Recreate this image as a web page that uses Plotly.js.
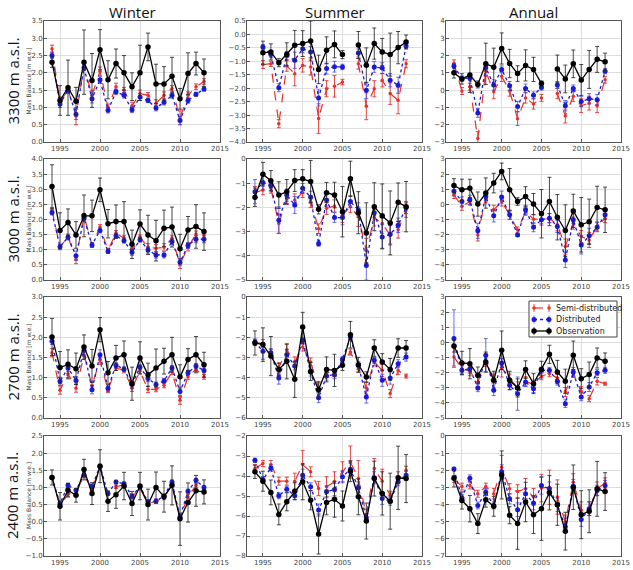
<!DOCTYPE html>
<html>
<head>
<meta charset="utf-8">
<script src="https://cdn.plot.ly/plotly-3.0.1.min.js"></script>
<style>html,body{margin:0;padding:0;background:#fff;}#chart{width:633px;height:570px;}</style>
</head>
<body>
<div id="chart"></div>
<script>
// Mass balance 1994-2013: observation vs distributed and semi-distributed models
const years = [1994,1995,1996,1997,1998,1999,2000,2001,2002,2003,2004,2005,2006,2007,2008,2009,2010,2011,2012,2013];

const seasons = ['Winter', 'Summer', 'Annual'];
const elevations = ['3300 m a.s.l.', '3000 m a.s.l.', '2700 m a.s.l.', '2400 m a.s.l.'];
const seriesNames = ['Semi-distributed', 'Distributed', 'Observation'];

// ---- 3300 m ----
const w3300Obs     = [2.31,1.20,1.57,1.18,2.31,1.78,2.67,1.80,2.27,2.00,1.60,2.00,2.75,1.68,1.68,1.90,1.25,1.98,2.27,2.00];
const w3300ObsErr  = [0.15,0.43,0.80,0.40,0.93,0.78,0.58,0.55,0.42,0.50,0.40,0.80,0.40,0.57,0.50,0.55,0.30,0.60,0.33,0.40];
const w3300Dist    = [2.50,1.10,1.50,0.80,2.15,1.25,1.80,0.92,1.45,1.35,0.93,1.30,1.20,0.98,1.15,1.35,0.62,1.20,1.38,1.53];
const w3300DistErr = [0.08,0.10,0.08,0.15,0.08,0.12,0.10,0.08,0.08,0.08,0.08,0.10,0.06,0.08,0.08,0.08,0.12,0.08,0.06,0.06];
const w3300Semi    = [2.70,1.15,1.52,0.75,2.20,1.35,2.05,1.00,1.60,1.50,1.05,1.40,1.35,1.12,1.35,1.55,0.70,1.35,1.60,1.75];
const w3300SemiErr = [0.10,0.15,0.10,0.25,0.10,0.15,0.12,0.10,0.10,0.08,0.10,0.10,0.08,0.10,0.10,0.08,0.20,0.10,0.08,0.08];

const s3300Obs     = [null,-0.68,-0.65,-1.05,-0.74,-0.40,-0.34,-0.24,-1.30,-0.59,-0.37,-0.75,null,-0.39,-1.15,-0.34,-0.65,-0.75,-0.49,-0.28];
const s3300ObsErr  = [null,0.43,0.30,0.15,0.43,0.55,0.48,0.74,0.53,0.50,0.50,0.15,null,0.50,0.65,0.58,0.50,0.80,0.60,0.26];
const s3300Dist    = [null,-0.47,-0.75,-1.98,-0.78,-0.96,-0.53,-0.65,-2.36,-1.27,-1.20,-1.21,null,-0.69,-2.08,-1.21,-1.25,-1.70,-1.89,-0.43];
const s3300DistErr = [null,0.10,0.10,0.15,0.15,0.30,0.15,0.20,0.30,0.20,0.20,0.10,null,0.15,0.30,0.20,0.20,0.25,0.30,0.10];
const s3300Semi    = [null,-1.12,-1.09,-3.32,-1.17,-1.46,-1.15,-1.21,-3.13,-2.02,-1.93,-1.77,null,-1.09,-2.67,-2.02,-1.70,-2.20,-2.45,-1.09];
const s3300SemiErr = [null,0.15,0.10,0.15,0.20,0.45,0.25,0.30,0.55,0.30,0.40,0.10,null,0.20,0.50,0.30,0.25,0.40,0.50,0.15];

const a3300Obs     = [1.00,0.65,0.87,0.33,1.52,1.33,2.41,1.54,0.96,1.43,1.20,0.38,null,1.23,0.65,1.52,0.58,1.20,1.78,1.64];
const a3300ObsErr  = [0.30,0.30,1.00,0.20,1.20,1.10,0.90,0.82,0.45,0.90,0.70,0.15,null,0.80,0.80,0.80,0.90,1.10,0.75,0.50];
const a3300Dist    = [1.39,0.67,0.70,-1.32,1.30,0.30,1.20,0.25,-0.95,0.10,-0.30,0.15,null,0.30,-0.90,0.10,-0.65,-0.50,-0.55,1.10];
const a3300DistErr = [0.15,0.15,0.15,0.25,0.20,0.30,0.20,0.25,0.30,0.25,0.20,0.15,null,0.20,0.30,0.20,0.30,0.30,0.30,0.15];
const a3300Semi    = [1.55,-0.05,0.20,-2.80,1.10,-0.10,0.80,-0.05,-1.65,-0.45,-0.80,-0.45,null,-0.20,-1.50,-0.35,-0.90,-0.75,-0.90,0.60];
const a3300SemiErr = [0.20,0.20,0.20,0.40,0.30,0.40,0.30,0.30,0.40,0.30,0.30,0.20,null,0.30,0.40,0.30,0.40,0.40,0.40,0.20];

// ---- 3000 m ----
const w3000Obs     = [3.09,1.64,1.90,1.49,2.12,2.12,2.98,1.86,1.93,1.93,1.18,1.85,1.49,1.30,1.71,1.75,1.03,1.65,1.77,1.60];
const w3000ObsErr  = [0.72,0.58,0.45,0.44,0.69,0.52,0.39,0.47,0.55,0.66,0.47,0.47,0.65,0.67,0.60,0.66,0.48,0.45,0.72,0.62];
const w3000Dist    = [2.23,1.10,1.41,0.80,2.04,1.16,1.64,0.94,1.46,1.30,0.92,1.33,0.99,0.83,0.83,1.27,0.59,1.14,1.35,1.35];
const w3000DistErr = [0.08,0.08,0.08,0.15,0.08,0.08,0.08,0.06,0.08,0.08,0.10,0.08,0.10,0.10,0.10,0.08,0.12,0.10,0.12,0.12];
const w3000Semi    = [2.32,1.08,1.44,0.69,2.12,1.16,1.75,0.99,1.55,1.38,0.97,1.41,1.08,1.05,1.08,1.38,0.53,1.08,1.52,1.52];
const w3000SemiErr = [0.08,0.08,0.08,0.15,0.08,0.08,0.08,0.06,0.08,0.08,0.10,0.08,0.12,0.12,0.12,0.08,0.15,0.12,0.10,0.10];

const s3000Obs     = [-1.58,-0.63,-0.90,-1.49,-1.35,-0.89,-0.82,-0.93,-2.08,-1.39,-1.49,-2.18,-0.82,-2.22,-3.06,-1.97,-2.36,-2.64,-1.79,-1.97];
const s3000ObsErr  = [0.38,0.49,0.42,0.55,0.50,0.45,0.38,0.87,0.19,0.42,0.53,1.04,0.73,0.87,1.25,0.99,1.33,1.32,0.80,1.04];
const s3000Dist    = [-1.35,-0.97,-1.11,-2.53,-1.49,-1.90,-1.21,-1.58,-3.50,-1.69,-2.42,-2.42,-1.76,-2.11,-4.40,-2.22,-3.22,-3.11,-2.74,-2.00];
const s3000DistErr = [0.50,0.30,0.20,0.55,0.25,0.35,0.20,0.25,0.10,0.25,0.20,0.30,0.25,0.30,0.60,0.30,0.50,0.40,0.30,0.25];
const s3000Semi    = [-1.39,-1.28,-1.21,-2.67,-1.63,-1.69,-1.39,-1.76,-2.88,-2.04,-1.94,-2.32,-1.97,-2.39,-3.78,-2.42,-2.67,-3.15,-2.92,-2.11];
const s3000SemiErr = [0.25,0.20,0.20,0.40,0.25,0.25,0.20,0.25,0.20,0.25,0.25,0.30,0.25,0.40,0.50,0.35,0.40,0.40,0.35,0.30];

const a3000Obs     = [1.25,0.97,1.06,0.02,0.75,1.41,2.18,0.97,0.19,0.52,0.02,-0.62,0.19,-0.85,-1.73,-0.43,-1.35,-1.15,-0.20,-0.36];
const a3000ObsErr  = [0.45,0.70,0.60,0.80,1.00,0.65,0.55,1.40,0.25,0.65,0.70,1.60,1.60,1.50,1.70,1.10,1.80,1.50,1.40,1.50];
const a3000Dist    = [0.86,0.19,0.30,-1.75,0.52,-0.76,0.48,-0.69,-2.02,-0.36,-1.51,-1.02,-0.91,-1.46,-3.67,-1.02,-2.68,-2.08,-1.51,-0.69];
const a3000DistErr = [0.30,0.30,0.30,0.50,0.30,0.40,0.40,0.30,0.10,0.30,0.30,0.35,0.30,0.40,0.50,0.40,0.60,0.50,0.30,0.30];
const a3000Semi    = [0.64,-0.14,0.19,-2.02,0.41,-0.36,0.19,-0.69,-1.69,-0.47,-0.98,-0.98,-0.91,-1.35,-2.79,-1.24,-2.13,-2.35,-1.46,-0.91];
const a3000SemiErr = [0.25,0.25,0.25,0.40,0.30,0.30,0.30,0.30,0.20,0.25,0.30,0.30,0.30,0.40,0.50,0.40,0.40,0.50,0.30,0.30];

// ---- 2700 m ----
const w2700Obs     = [2.01,1.25,1.33,1.22,1.76,1.29,2.19,1.12,1.49,1.57,0.85,1.49,1.07,1.24,1.41,1.57,1.02,1.45,1.57,1.32];
const w2700ObsErr  = [0.46,0.40,0.36,0.39,0.30,0.41,0.30,0.28,0.31,0.34,0.41,0.40,0.29,0.47,0.32,0.43,0.30,0.27,0.45,0.31];
const w2700Dist    = [1.90,0.91,1.24,0.93,1.68,0.70,1.57,0.74,1.31,1.21,0.83,1.26,0.98,0.83,0.92,1.24,0.66,1.12,1.29,1.18];
const w2700DistErr = [0.08,0.10,0.08,0.10,0.10,0.10,0.12,0.08,0.06,0.06,0.08,0.06,0.08,0.06,0.06,0.06,0.10,0.06,0.06,0.06];
const w2700Semi    = [1.62,0.69,1.10,0.74,1.55,0.81,1.43,0.69,1.24,1.18,0.74,1.16,0.71,0.71,0.81,1.14,0.44,1.02,1.21,1.02];
const w2700SemiErr = [0.10,0.10,0.10,0.10,0.10,0.10,0.10,0.06,0.06,0.06,0.08,0.06,0.08,0.06,0.06,0.06,0.10,0.06,0.06,0.06];

const s2700Obs     = [-2.28,-2.36,-2.93,-3.59,-3.19,-4.08,-1.49,-3.69,-4.60,-3.59,-3.64,-3.39,-1.87,-3.36,-3.97,-2.53,-3.22,-3.59,-2.53,-2.53];
const s2700ObsErr  = [0.60,0.83,0.97,0.31,0.87,0.90,0.73,0.45,0.40,0.62,0.80,0.25,0.66,0.37,0.26,0.41,0.41,0.54,0.46,0.37];
const s2700Dist    = [-2.23,-2.69,-2.76,-4.02,-2.86,-3.42,-2.15,-3.72,-4.99,-3.92,-3.85,-3.09,-1.98,-3.39,-4.96,-3.14,-4.13,-4.02,-3.31,-2.98];
const s2700DistErr = [0.15,0.40,0.20,0.30,0.25,0.20,0.15,0.20,0.25,0.20,0.20,0.15,0.15,0.20,0.30,0.15,0.30,0.30,0.20,0.20];
const s2700Semi    = [-2.26,-2.31,-2.81,-3.52,-2.61,-3.22,-2.48,-3.22,-4.51,-3.75,-3.75,-3.22,-2.73,-3.52,-4.51,-3.22,-3.64,-4.79,-3.64,-3.92];
const s2700SemiErr = [0.15,0.20,0.20,0.25,0.25,0.25,0.20,0.20,0.25,0.20,0.20,0.15,0.15,0.20,0.30,0.20,0.30,0.20,0.20,0.10];

const a2700Obs     = [-0.24,-1.36,-1.41,-2.18,-1.30,-2.51,-0.52,-2.51,-3.01,-1.80,-2.73,-1.80,-0.79,-1.96,-2.57,-0.85,-2.40,-2.13,-1.03,-1.25];
const a2700ObsErr  = [0.40,0.77,1.00,0.55,0.66,0.60,1.27,0.60,0.60,0.58,0.66,0.55,0.60,0.77,0.80,0.94,0.66,0.83,0.66,0.55];
const a2700Dist    = [0.25,-1.85,-1.74,-3.01,-0.85,-3.17,-1.36,-2.84,-3.39,-2.62,-3.06,-1.85,-1.85,-2.57,-4.05,-1.96,-3.61,-2.95,-2.00,-1.85];
const a2700DistErr = [1.90,0.30,0.30,0.25,1.10,0.35,0.30,0.30,1.10,0.30,0.25,0.20,0.20,0.25,0.25,0.30,0.25,0.30,0.20,0.20];
const a2700Semi    = [-0.96,-1.74,-1.91,-2.62,-1.19,-2.40,-1.69,-2.40,-3.01,-2.57,-2.79,-2.22,-2.07,-2.35,-3.28,-2.07,-3.23,-3.72,-2.57,-2.73];
const a2700SemiErr = [0.60,0.30,0.30,0.30,0.40,0.30,0.60,0.30,0.40,0.30,0.30,0.25,0.20,0.25,0.30,0.25,0.30,0.20,0.25,0.10];

// ---- 2400 m ----
const w2400Obs     = [1.29,0.45,0.92,0.77,1.52,0.82,1.62,0.60,0.79,1.04,0.53,1.04,0.50,1.00,0.73,1.06,0.09,0.56,0.90,0.87];
const w2400ObsErr  = [0.22,0.40,0.20,0.20,0.30,0.32,0.48,0.30,0.40,0.40,0.35,0.40,0.45,0.45,0.45,0.57,0.78,0.57,0.45,0.35];
const w2400Dist    = [1.29,0.53,1.06,0.92,1.36,1.02,1.62,0.82,1.16,1.11,0.75,1.02,0.58,0.60,0.75,1.16,0.14,0.89,1.21,1.00];
const w2400DistErr = [0.05,0.05,0.06,0.05,0.06,0.06,0.06,0.05,0.05,0.05,0.06,0.05,0.06,0.06,0.06,0.06,0.06,0.06,0.06,0.06];
const w2400Semi    = [1.29,0.48,0.80,0.87,1.34,0.97,1.57,0.82,1.02,1.08,0.73,0.97,0.53,0.60,0.70,1.08,0.14,0.73,1.06,0.97];
const w2400SemiErr = [0.05,0.05,0.06,0.05,0.06,0.06,0.06,0.05,0.05,0.05,0.06,0.05,0.06,0.06,0.06,0.06,0.06,0.06,0.06,0.06];

const s2400Obs     = [-3.79,-4.26,-4.82,-5.92,-5.29,-4.76,-4.29,-5.21,-6.90,-5.32,-5.16,-5.50,-3.76,-5.04,-6.25,-4.13,-4.87,-5.26,-4.09,-4.13];
const s2400ObsErr  = [0.33,0.50,0.62,0.52,0.45,0.42,0.90,0.48,1.00,0.62,0.90,0.75,0.52,0.90,0.90,0.87,1.08,1.40,1.58,1.20];
const s2400Dist    = [-3.21,-4.18,-3.60,-4.99,-4.66,-4.99,-3.96,-4.54,-5.70,-4.79,-4.67,-4.04,-3.66,-4.59,-6.09,-4.09,-5.12,-5.26,-4.29,-3.96];
const s2400DistErr = [0.10,0.15,0.15,0.15,0.15,0.20,0.30,0.20,0.30,0.30,0.30,0.30,0.30,0.30,0.20,0.30,0.30,0.20,0.20,0.20];
const s2400Semi    = [-3.63,-3.38,-3.43,-4.26,-4.26,-4.26,-3.43,-3.79,-4.62,-4.54,-4.29,-3.79,-3.30,-4.13,-5.95,-3.63,-4.26,-4.96,-4.09,-3.71];
const s2400SemiErr = [0.20,0.15,0.20,0.20,0.20,0.40,0.70,0.25,0.35,0.50,0.50,0.50,0.80,0.90,0.30,0.50,0.60,0.20,0.30,0.20];

const a2400Obs     = [-2.47,-3.76,-4.24,-5.11,-3.72,-4.10,-2.27,-4.62,-5.11,-3.85,-4.59,-4.24,-3.31,-4.01,-5.55,-2.99,-4.59,-4.39,-3.08,-3.24];
const a2400ObsErr  = [0.50,0.50,0.77,0.58,0.43,0.58,1.40,0.50,1.50,1.15,1.10,1.85,1.00,1.20,1.10,1.30,1.40,1.25,1.60,1.10];
const a2400Dist    = [-1.93,-3.62,-2.47,-4.05,-3.28,-4.05,-2.08,-3.66,-4.30,-3.37,-3.91,-2.89,-3.08,-4.01,-5.30,-2.93,-4.87,-4.24,-3.18,-2.89];
const a2400DistErr = [0.10,0.20,0.20,0.20,0.20,0.20,0.40,0.30,0.40,0.30,0.40,0.50,0.40,0.40,0.30,0.40,0.40,0.40,0.30,0.30];
const a2400Semi    = [-2.50,-2.95,-2.89,-3.37,-2.95,-3.37,-1.83,-3.08,-3.24,-3.08,-3.56,-3.04,-2.99,-3.56,-5.01,-2.70,-4.34,-4.24,-3.08,-2.74];
const a2400SemiErr = [0.20,0.20,0.20,0.20,0.20,0.30,0.70,0.30,0.40,0.60,0.50,0.80,1.00,1.00,0.40,0.50,0.50,0.40,0.40,0.30];

// panel grid: rows = elevations, columns = seasons
const panelData = [
  [[w3300Semi,w3300SemiErr,w3300Dist,w3300DistErr,w3300Obs,w3300ObsErr],
   [s3300Semi,s3300SemiErr,s3300Dist,s3300DistErr,s3300Obs,s3300ObsErr],
   [a3300Semi,a3300SemiErr,a3300Dist,a3300DistErr,a3300Obs,a3300ObsErr]],
  [[w3000Semi,w3000SemiErr,w3000Dist,w3000DistErr,w3000Obs,w3000ObsErr],
   [s3000Semi,s3000SemiErr,s3000Dist,s3000DistErr,s3000Obs,s3000ObsErr],
   [a3000Semi,a3000SemiErr,a3000Dist,a3000DistErr,a3000Obs,a3000ObsErr]],
  [[w2700Semi,w2700SemiErr,w2700Dist,w2700DistErr,w2700Obs,w2700ObsErr],
   [s2700Semi,s2700SemiErr,s2700Dist,s2700DistErr,s2700Obs,s2700ObsErr],
   [a2700Semi,a2700SemiErr,a2700Dist,a2700DistErr,a2700Obs,a2700ObsErr]],
  [[w2400Semi,w2400SemiErr,w2400Dist,w2400DistErr,w2400Obs,w2400ObsErr],
   [s2400Semi,s2400SemiErr,s2400Dist,s2400DistErr,s2400Obs,s2400ObsErr],
   [a2400Semi,a2400SemiErr,a2400Dist,a2400DistErr,a2400Obs,a2400ObsErr]]
];

// y-axis ranges and tick spacing per panel
const yRanges = [
  [[0, 3.5], [-4, 0.5], [-3, 4]],
  [[0, 4],   [-5, 0],   [-5, 3]],
  [[0, 3],   [-6, 0],   [-5, 3]],
  [[-1, 2.5],[-8, -2],  [-7, 0]]
];
const yDticks = [
  [0.5, 0.5, 1],
  [0.5, 1, 1],
  [0.5, 1, 1],
  [0.5, 1, 1]
];

// layout geometry in pixels
const W = 633, H = 570;
const colPx = [[44, 220], [247, 422], [446, 621]];
const rowPx = [[21, 142], [159, 280], [297, 418], [436, 556]];

const styles = [
  {color: '#e8302a', err: 'rgba(225,40,40,0.85)', dash: 'dash', size: 3.5, width: 1.2},
  {color: '#1a1ad6', err: 'rgba(60,60,230,0.75)', dash: 'dot',  size: 5,   width: 1.3},
  {color: '#000000', err: 'rgba(40,40,40,0.85)',  dash: 'solid',size: 5.5, width: 1.3}
];

const traces = [];
const layout = {
  width: W, height: H,
  margin: {l: 0, r: 0, t: 0, b: 0},
  paper_bgcolor: '#fff', plot_bgcolor: '#fff',
  showlegend: false,
  annotations: [],
  shapes: []
};

const tickFont = {family: 'DejaVu Sans', size: 7, color: '#444'};

for (let r = 0; r < 4; r++) {
  for (let c = 0; c < 3; c++) {
    const idx = r * 3 + c + 1;
    const sfx = idx === 1 ? '' : String(idx);
    const d = panelData[r][c];
    const fmt = yDticks[r][c] < 1 ? '.1f' : 'd';

    layout['xaxis' + sfx] = {
      domain: [colPx[c][0] / W, colPx[c][1] / W],
      anchor: 'y' + sfx,
      range: [1993, 2015], tickmode: 'array', tickvals: [1995, 2000, 2005, 2010, 2015],
      showgrid: true, gridcolor: '#dedede', gridwidth: 1,
      showline: true, linecolor: '#555', linewidth: 1, mirror: true,
      ticks: 'inside', ticklen: 3, tickcolor: '#555',
      zeroline: false, tickfont: tickFont
    };
    layout['yaxis' + sfx] = {
      domain: [1 - rowPx[r][1] / H, 1 - rowPx[r][0] / H],
      anchor: 'x' + sfx,
      range: yRanges[r][c], dtick: yDticks[r][c], tick0: 0, tickformat: fmt,
      showgrid: true, gridcolor: '#dedede', gridwidth: 1,
      showline: true, linecolor: '#555', linewidth: 1, mirror: true,
      ticks: 'inside', ticklen: 3, tickcolor: '#555',
      ticklabelstandoff: -1,
      zeroline: false, tickfont: tickFont
    };

    for (let s = 0; s < 3; s++) {
      const st = styles[s];
      traces.push({
        type: 'scatter', mode: 'lines+markers',
        x: years, y: d[s * 2],
        xaxis: 'x' + sfx, yaxis: 'y' + sfx,
        name: seriesNames[s],
        line: {color: st.color, width: st.width, dash: st.dash},
        marker: {color: st.color, size: st.size, symbol: 'circle'},
        error_y: {type: 'data', array: d[s * 2 + 1], visible: true,
                  color: st.err, thickness: 1, width: 2},
        connectgaps: false, hoverinfo: 'x+y'
      });
    }
  }
}

// key box inside the 2700 m annual panel (paper pixels)
const key = {x0: 529, x1: 617, y0: 301, y1: 337, rowsY: [308, 319.5, 331], lx0: 534, lx1: 549, tx: 554};
const px = v => v / W, py = v => 1 - v / H;
layout.shapes.push({type: 'rect', xref: 'paper', yref: 'paper',
  x0: px(key.x0), x1: px(key.x1), y0: py(key.y0), y1: py(key.y1),
  line: {color: '#444', width: 1}, fillcolor: '#fff', layer: 'above'});
for (let s = 0; s < 3; s++) {
  const st = styles[s], yy = key.rowsY[s];
  layout.shapes.push({type: 'line', xref: 'paper', yref: 'paper',
    x0: px(key.lx0), x1: px(key.lx1), y0: py(yy), y1: py(yy),
    line: {color: st.color, width: st.width, dash: st.dash}, layer: 'above'});
  [key.lx0, key.lx1].forEach(xx => {
    layout.shapes.push({type: 'line', xref: 'paper', yref: 'paper',
      x0: px(xx), x1: px(xx), y0: py(yy - 4), y1: py(yy + 4),
      line: {color: st.err, width: 1}, layer: 'above'});
    const rad = st.size / 2;
    layout.shapes.push({type: 'circle', xref: 'paper', yref: 'paper',
      x0: px(xx - rad), x1: px(xx + rad), y0: py(yy - rad), y1: py(yy + rad),
      line: {color: st.color, width: 0}, fillcolor: st.color, layer: 'above'});
  });
  layout.annotations.push({text: seriesNames[s], xref: 'paper', yref: 'paper',
    x: px(key.tx), y: py(yy), xanchor: 'left', yanchor: 'middle', showarrow: false,
    font: {family: 'DejaVu Sans', size: 8, color: '#222'}});
}

// column titles
for (let c = 0; c < 3; c++) {
  layout.annotations.push({
    text: seasons[c], xref: 'paper', yref: 'paper',
    x: (colPx[c][0] + colPx[c][1]) / 2 / W, y: 1 - 12 / H,
    xanchor: 'center', yanchor: 'middle', showarrow: false,
    font: {family: 'Open Sans', size: 15, color: '#111'}
  });
}
// row labels and y-axis titles
for (let r = 0; r < 4; r++) {
  const yc = 1 - (rowPx[r][0] + rowPx[r][1]) / 2 / H;
  layout.annotations.push({
    text: elevations[r], xref: 'paper', yref: 'paper',
    x: 12 / W, y: yc, xanchor: 'center', yanchor: 'middle',
    textangle: -90, showarrow: false,
    font: {family: 'Open Sans', size: 15, color: '#111'}
  });
  layout.annotations.push({
    text: 'Mass Balance [m w.e.]', xref: 'paper', yref: 'paper',
    x: 28 / W, y: yc, xanchor: 'center', yanchor: 'middle',
    textangle: -90, showarrow: false,
    font: {family: 'DejaVu Sans', size: 6, color: '#444'}
  });
}

Plotly.newPlot('chart', traces, layout, {displayModeBar: false, staticPlot: true});
</script>
</body>
</html>
